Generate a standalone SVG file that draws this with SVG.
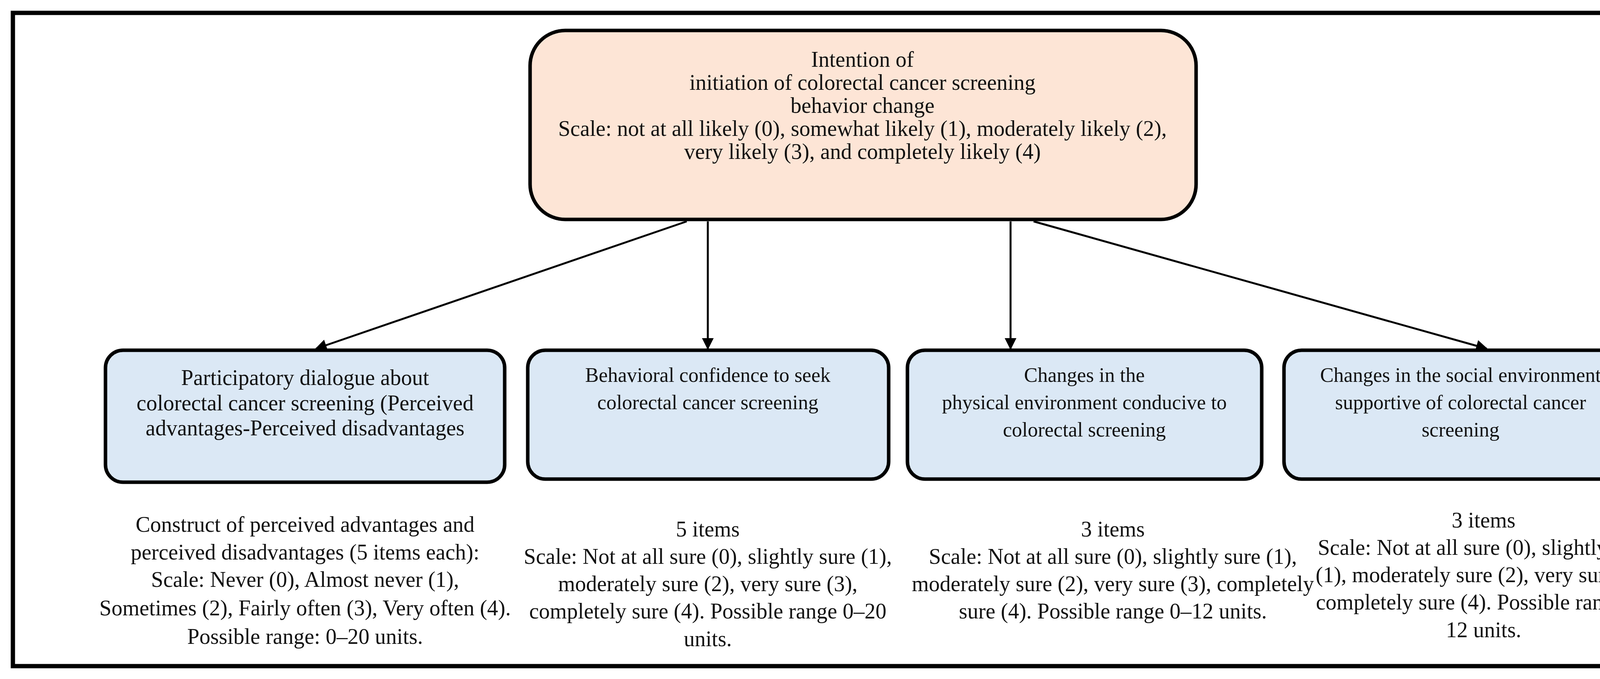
<svg xmlns="http://www.w3.org/2000/svg" width="4404" height="1739" viewBox="0 0 4404 1739">
<style>
text{font-family:"Liberation Serif",serif;font-size:56px;fill:#111;text-anchor:middle}
.top{fill:#fde5d6;stroke:#000;stroke-width:9}
.bl{fill:#dbe8f5;stroke:#000;stroke-width:9}
.s{font-size:52px}
.c{stroke:#000;stroke-width:5;fill:none;marker-end:url(#a)}
</style>
<defs><marker id="a" viewBox="0 0 10 10" refX="9" refY="5" markerWidth="7" markerHeight="6" orient="auto"><path d="M0,0L10,5L0,10z" fill="#000"/></marker></defs>
<rect width="4404" height="1739" fill="#fff"/>
<rect x="33" y="33" width="4338" height="1673" fill="none" stroke="#000" stroke-width="11"/>
<g id="connectors">
<line class="c" x1="1758" y1="567" x2="809" y2="893"/>
<line class="c" x1="1812" y1="567" x2="1812" y2="893"/>
<line class="c" x1="2587" y1="567" x2="2587" y2="893"/>
<line class="c" x1="2646" y1="567" x2="3806" y2="893"/>
</g>
<g id="n0"><rect class="top" x="1357" y="78" width="1705" height="484" rx="90"/>
<text x="2208" y="171">Intention of</text>
<text x="2208" y="230">initiation of colorectal cancer screening</text>
<text x="2208" y="289">behavior change</text>
<text x="2208" y="348">Scale: not at all likely (0), somewhat likely (1), moderately likely (2),</text>
<text x="2208" y="407">very likely (3), and completely likely (4)</text>
</g>
<g id="n1"><rect class="bl" x="270" y="897" width="1022" height="338" rx="45"/>
<text x="781" y="986">Participatory dialogue about</text>
<text x="781" y="1051">colorectal cancer screening (Perceived</text>
<text x="781" y="1115">advantages-Perceived disadvantages</text>
</g>
<g id="n2"><rect class="bl" x="1351" y="897" width="924" height="330" rx="45"/>
<text class="s" x="1812" y="978">Behavioral confidence to seek</text>
<text class="s" x="1812" y="1048">colorectal cancer screening</text>
</g>
<g id="n3"><rect class="bl" x="2323" y="897" width="907" height="330" rx="45"/>
<text class="s" x="2776" y="978">Changes in the</text>
<text class="s" x="2776" y="1048">physical environment conducive to</text>
<text class="s" x="2776" y="1118">colorectal screening</text>
</g>
<g id="n4"><rect class="bl" x="3287" y="897" width="904" height="330" rx="45"/>
<text class="s" x="3739" y="978">Changes in the social environment</text>
<text class="s" x="3739" y="1048">supportive of colorectal cancer</text>
<text class="s" x="3739" y="1118">screening</text>
</g>
<g id="t1">
<text x="781" y="1362">Construct of perceived advantages and</text>
<text x="781" y="1433">perceived disadvantages (5 items each):</text>
<text x="781" y="1503">Scale: Never (0), Almost never (1),</text>
<text x="781" y="1576">Sometimes (2), Fairly often (3), Very often (4).</text>
<text x="781" y="1649">Possible range: 0–20 units.</text>
</g>
<g id="t2">
<text x="1812" y="1374">5 items</text>
<text x="1812" y="1444">Scale: Not at all sure (0), slightly sure (1),</text>
<text x="1812" y="1514">moderately sure (2), very sure (3),</text>
<text x="1812" y="1584">completely sure (4). Possible range 0–20</text>
<text x="1812" y="1655">units.</text>
</g>
<g id="t3">
<text x="2849" y="1374">3 items</text>
<text x="2849" y="1444">Scale: Not at all sure (0), slightly sure (1),</text>
<text x="2849" y="1514">moderately sure (2), very sure (3), completely</text>
<text x="2849" y="1584">sure (4). Possible range 0–12 units.</text>
</g>
<g id="t4">
<text x="3798" y="1351">3 items</text>
<text x="3798" y="1421">Scale: Not at all sure (0), slightly sure</text>
<text x="3798" y="1491">(1), moderately sure (2), very sure (3),</text>
<text x="3798" y="1561">completely sure (4). Possible range 0–</text>
<text x="3798" y="1632">12 units.</text>
</g>
</svg>
